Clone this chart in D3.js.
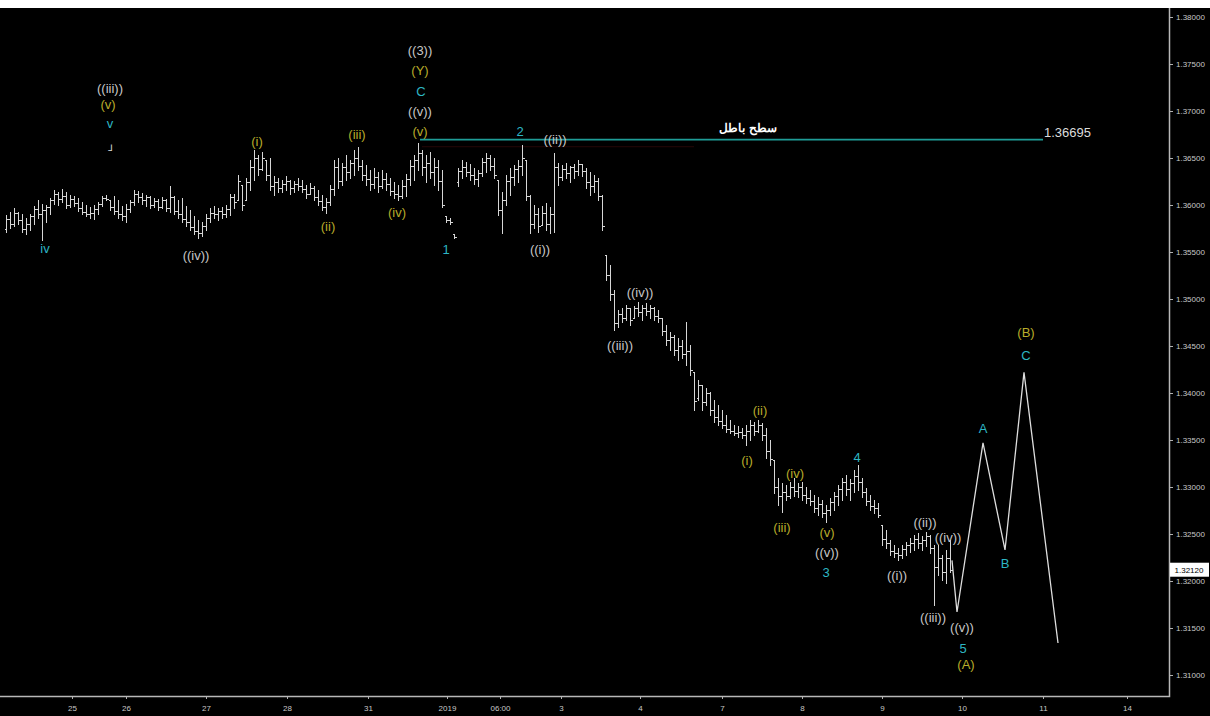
<!DOCTYPE html>
<html>
<head>
<meta charset="utf-8">
<script src="https://cdn.jsdelivr.net/npm/d3@7"></script>
<style>
body { margin: 0; background: #fff; }
svg { display: block; }
text { font-family: "Liberation Sans", Arial, sans-serif; }
</style>
</head>
<body>
<div id="chart"></div>
<script>
// hourly bars
var highs = [
  1.3589,1.3593,1.3597,1.3593,1.3590,1.3586,1.3590,1.3599,1.3605,1.3601,
  1.3600,1.3607,1.3616,1.3614,1.3617,1.3614,1.3611,1.3610,1.3607,1.3603,
  1.3600,1.3598,1.3600,1.3603,1.3610,1.3611,1.3605,1.3610,1.3605,1.3599,
  1.3601,1.3605,1.3616,1.3615,1.3613,1.3611,1.3610,1.3607,1.3606,1.3609,
  1.3606,1.3620,1.3610,1.3605,1.3607,1.3599,1.3595,1.3588,1.3584,1.3582,
  1.3590,1.3597,1.3599,1.3597,1.3598,1.3600,1.3612,1.3612,1.3632,1.3621,
  1.3629,1.3648,1.3659,1.3653,1.3656,1.3648,1.3650,1.3631,1.3629,1.3627,
  1.3631,1.3627,1.3626,1.3629,1.3627,1.3621,1.3623,1.3620,1.3616,1.3611,
  1.3607,1.3621,1.3648,1.3650,1.3645,1.3653,1.3648,1.3659,1.3662,1.3648,
  1.3643,1.3637,1.3639,1.3635,1.3637,1.3634,1.3629,1.3624,1.3621,1.3627,
  1.3633,1.3648,1.3653,1.3666,1.3659,1.3653,1.3656,1.3650,1.3648,1.3637,
  1.3588,1.3586,1.3569,1.3639,1.3648,1.3646,1.3644,1.3639,1.3637,1.3650,
  1.3655,1.3653,1.3650,1.3627,1.3614,1.3632,1.3639,1.3643,1.3648,1.3664,
  1.3648,1.3611,1.3600,1.3597,1.3599,1.3602,1.3598,1.3655,1.3645,1.3643,
  1.3645,1.3642,1.3644,1.3648,1.3644,1.3639,1.3635,1.3632,1.3629,1.3611,
  1.3547,1.3536,1.3510,1.3488,1.3490,1.3494,1.3490,1.3493,1.3497,1.3494,
  1.3496,1.3494,1.3491,1.3488,1.3480,1.3472,1.3465,1.3462,1.3458,1.3456,
  1.3476,1.3451,1.3422,1.3414,1.3408,1.3405,1.3401,1.3393,1.3387,1.3382,
  1.3377,1.3371,1.3366,1.3365,1.3363,1.3366,1.3371,1.3369,1.3371,1.3368,
  1.3363,1.3350,1.3329,1.3310,1.3304,1.3302,1.3305,1.3310,1.3304,1.3305,
  1.3300,1.3297,1.3291,1.3289,1.3286,1.3281,1.3288,1.3295,1.3302,1.3310,
  1.3313,1.3308,1.3318,1.3323,1.3310,1.3299,1.3291,1.3286,1.3283,1.3260,
  1.3254,1.3244,1.3238,1.3235,1.3238,1.3242,1.3246,1.3249,1.3251,1.3248,
  1.3252,1.3249,1.3238,1.3238,1.3228,1.3233,1.3244
];
var lows = [
  1.3571,1.3576,1.3578,1.3580,1.3571,1.3569,1.3573,1.3580,1.3586,1.3563,
  1.3582,1.3590,1.3601,1.3600,1.3603,1.3597,1.3598,1.3599,1.3594,1.3590,
  1.3588,1.3586,1.3585,1.3590,1.3599,1.3605,1.3595,1.3590,1.3586,1.3584,
  1.3582,1.3593,1.3600,1.3603,1.3601,1.3599,1.3597,1.3598,1.3595,1.3597,
  1.3594,1.3593,1.3590,1.3586,1.3582,1.3578,1.3573,1.3569,1.3565,1.3567,
  1.3573,1.3582,1.3586,1.3584,1.3586,1.3587,1.3589,1.3597,1.3605,1.3595,
  1.3605,1.3616,1.3627,1.3632,1.3637,1.3627,1.3616,1.3611,1.3614,1.3614,
  1.3616,1.3612,1.3614,1.3616,1.3614,1.3607,1.3612,1.3605,1.3600,1.3595,
  1.3591,1.3600,1.3611,1.3618,1.3621,1.3627,1.3629,1.3632,1.3637,1.3627,
  1.3621,1.3616,1.3618,1.3614,1.3618,1.3616,1.3611,1.3607,1.3605,1.3607,
  1.3610,1.3621,1.3627,1.3637,1.3632,1.3624,1.3629,1.3621,1.3616,1.3598,
  1.3582,1.3580,1.3565,1.3620,1.3629,1.3631,1.3627,1.3622,1.3620,1.3631,
  1.3635,1.3637,1.3629,1.3589,1.3570,1.3600,1.3611,1.3621,1.3624,1.3632,
  1.3605,1.3570,1.3576,1.3571,1.3579,1.3573,1.3570,1.3571,1.3621,1.3627,
  1.3629,1.3624,1.3629,1.3632,1.3631,1.3618,1.3611,1.3614,1.3605,1.3573,
  1.3520,1.3499,1.3467,1.3470,1.3476,1.3478,1.3472,1.3480,1.3482,1.3478,
  1.3483,1.3480,1.3478,1.3476,1.3462,1.3451,1.3446,1.3440,1.3435,1.3437,
  1.3430,1.3419,1.3382,1.3393,1.3382,1.3387,1.3377,1.3369,1.3366,1.3363,
  1.3358,1.3357,1.3355,1.3353,1.3352,1.3345,1.3350,1.3355,1.3358,1.3350,
  1.3331,1.3323,1.3294,1.3281,1.3273,1.3286,1.3288,1.3290,1.3289,1.3286,
  1.3283,1.3281,1.3273,1.3270,1.3268,1.3263,1.3270,1.3276,1.3281,1.3286,
  1.3291,1.3286,1.3295,1.3297,1.3289,1.3281,1.3276,1.3272,1.3268,1.3238,
  1.3235,1.3228,1.3226,1.3222,1.3225,1.3228,1.3231,1.3233,1.3235,1.3233,
  1.3237,1.3230,1.3174,1.3206,1.3201,1.3198,1.3210
];
var opens = [
  1.3575,1.3585,1.3580,1.3592,1.3584,1.3575,1.3580,1.3588,1.3596,1.3590,
  1.3595,1.3598,1.3605,1.3612,1.3606,1.3610,1.3600,1.3606,1.3602,1.3597,
  1.3593,1.3590,1.3592,1.3596,1.3601,1.3607,1.3605,1.3598,1.3594,1.3590,
  1.3588,1.3596,1.3603,1.3612,1.3608,1.3605,1.3608,1.3600,1.3604,1.3598,
  1.3605,1.3597,1.3608,1.3594,1.3590,1.3585,1.3582,1.3577,1.3572,1.3570,
  1.3578,1.3586,1.3592,1.3590,1.3594,1.3590,1.3596,1.3608,1.3605,1.3621,
  1.3605,1.3624,1.3640,1.3650,1.3638,1.3648,1.3632,1.3620,1.3624,1.3618,
  1.3622,1.3626,1.3618,1.3622,1.3620,1.3617,1.3612,1.3618,1.3609,1.3604,
  1.3598,1.3603,1.3617,1.3640,1.3625,1.3640,1.3635,1.3645,1.3650,1.3642,
  1.3632,1.3628,1.3622,1.3630,1.3620,1.3628,1.3622,1.3615,1.3612,1.3610,
  1.3620,1.3628,1.3642,1.3648,1.3655,1.3640,1.3645,1.3635,1.3640,1.3625,
  1.3588,1.3584,1.3569,1.3624,1.3636,1.3640,1.3635,1.3632,1.3628,1.3634,
  1.3646,1.3650,1.3642,1.3627,1.3595,1.3605,1.3625,1.3630,1.3638,1.3642,
  1.3648,1.3610,1.3580,1.3590,1.3579,1.3592,1.3580,1.3590,1.3640,1.3630,
  1.3638,1.3634,1.3640,1.3636,1.3644,1.3636,1.3624,1.3620,1.3626,1.3610,
  1.3547,1.3525,1.3505,1.3475,1.3484,1.3480,1.3490,1.3480,1.3490,1.3486,
  1.3490,1.3487,1.3490,1.3482,1.3480,1.3466,1.3456,1.3460,1.3446,1.3450,
  1.3442,1.3445,1.3422,1.3395,1.3408,1.3390,1.3400,1.3382,1.3375,1.3370,
  1.3366,1.3362,1.3360,1.3357,1.3358,1.3355,1.3360,1.3366,1.3360,1.3366,
  1.3355,1.3338,1.3329,1.3300,1.3290,1.3295,1.3290,1.3300,1.3296,1.3300,
  1.3292,1.3288,1.3285,1.3278,1.3282,1.3272,1.3276,1.3284,1.3290,1.3298,
  1.3305,1.3298,1.3304,1.3312,1.3305,1.3295,1.3285,1.3280,1.3278,1.3260,
  1.3245,1.3240,1.3232,1.3230,1.3228,1.3234,1.3238,1.3240,1.3245,1.3240,
  1.3244,1.3248,1.3235,1.3215,1.3225,1.3210,1.3225
];
var closes = [
  1.3585,1.3580,1.3592,1.3584,1.3575,1.3580,1.3588,1.3596,1.3590,1.3595,
  1.3598,1.3605,1.3612,1.3606,1.3610,1.3600,1.3606,1.3602,1.3597,1.3593,
  1.3590,1.3592,1.3596,1.3601,1.3607,1.3606,1.3598,1.3594,1.3590,1.3588,
  1.3596,1.3603,1.3612,1.3608,1.3605,1.3608,1.3600,1.3604,1.3598,1.3605,
  1.3597,1.3608,1.3594,1.3590,1.3585,1.3582,1.3577,1.3572,1.3570,1.3578,
  1.3586,1.3592,1.3590,1.3594,1.3590,1.3596,1.3608,1.3603,1.3625,1.3600,
  1.3624,1.3640,1.3650,1.3638,1.3650,1.3632,1.3620,1.3624,1.3618,1.3622,
  1.3626,1.3618,1.3622,1.3620,1.3617,1.3612,1.3618,1.3609,1.3604,1.3598,
  1.3603,1.3617,1.3640,1.3625,1.3640,1.3635,1.3645,1.3650,1.3642,1.3632,
  1.3628,1.3622,1.3630,1.3620,1.3628,1.3622,1.3615,1.3612,1.3610,1.3620,
  1.3628,1.3642,1.3648,1.3655,1.3640,1.3645,1.3635,1.3640,1.3625,1.3600,
  1.3584,1.3582,1.3566,1.3636,1.3640,1.3635,1.3632,1.3628,1.3634,1.3646,
  1.3650,1.3642,1.3632,1.3595,1.3605,1.3625,1.3630,1.3638,1.3642,1.3650,
  1.3610,1.3580,1.3590,1.3578,1.3592,1.3580,1.3590,1.3640,1.3630,1.3638,
  1.3634,1.3640,1.3636,1.3644,1.3636,1.3624,1.3620,1.3626,1.3610,1.3578,
  1.3525,1.3505,1.3475,1.3484,1.3480,1.3490,1.3478,1.3490,1.3486,1.3490,
  1.3487,1.3490,1.3482,1.3480,1.3466,1.3456,1.3460,1.3446,1.3450,1.3442,
  1.3445,1.3424,1.3392,1.3408,1.3390,1.3400,1.3382,1.3375,1.3370,1.3366,
  1.3362,1.3360,1.3357,1.3358,1.3355,1.3360,1.3366,1.3360,1.3366,1.3355,
  1.3338,1.3330,1.3300,1.3290,1.3295,1.3290,1.3300,1.3296,1.3300,1.3292,
  1.3288,1.3285,1.3278,1.3282,1.3272,1.3276,1.3284,1.3290,1.3298,1.3305,
  1.3298,1.3304,1.3312,1.3305,1.3295,1.3285,1.3280,1.3278,1.3270,1.3245,
  1.3240,1.3232,1.3230,1.3228,1.3234,1.3238,1.3240,1.3245,1.3240,1.3244,
  1.3248,1.3235,1.3215,1.3225,1.3210,1.3225,1.3212
];

// projected path (bar index, price)
var projIdx = [236.5, 237.75, 244.25, 249.75, 254.5, 263];
var projPrice = [1.3222, 1.3167, 1.3347, 1.3233, 1.3422, 1.3134];

// invalidation level
var levelPrice = 1.36695;
var levelStart = 103.5;
var levelEnd = 259.25;
var levelName = "سطح باطل";
var lastPrice = 1.32120;

// x axis ticks (bar index) and labels
var xTickIdx = [16.5, 30, 50, 70.25, 90.5, 110.25, 123.5, 138.75, 158.5, 179, 199, 219, 239, 259.25, 280.25];
var xTickLabels = ["25", "26", "27", "28", "31", "2019", "06:00", "3", "4", "7", "8", "9", "10", "11", "14"];
var yTicks = [1.31, 1.315, 1.32, 1.325, 1.33, 1.335, 1.34, 1.345, 1.35, 1.355, 1.36, 1.365, 1.37, 1.375, 1.38];

// wave labels: text, bar index, price, degree (0 gray, 1 yellow, 2 cyan, 3 mark)
var waveText = ["((iii))", "(v)", "v", "iv", "((iv))", "(i)", "(ii)", "(iii)", "(iv)", "(v)",
  "((v))", "C", "(Y)", "((3))", "1", "2", "((ii))", "((i))", "((iv))", "((iii))",
  "(ii)", "(i)", "(iv)", "(iii)", "4", "(v)", "((v))", "3", "((i))", "((ii))",
  "((iv))", "((iii))", "((v))", "5", "(A)", "A", "B", "C", "(B)", "⅃"];
var waveIdx = [26, 25.5, 26, 9.75, 47.5, 62.75, 80.5, 87.75, 97.75, 103.5,
  103.5, 103.75, 103.5, 103.5, 110, 128.5, 137.25, 133.5, 158.5, 153.5,
  188.5, 185.25, 197.25, 194, 212.75, 205.25, 205.25, 205, 222.75, 229.75,
  235.5, 231.75, 239, 239.25, 240, 244.25, 249.75, 255, 255, 26];
var wavePrice = [1.37245, 1.37074, 1.36872, 1.35543, 1.35468, 1.36681, 1.35777, 1.36755, 1.35926, 1.36787,
  1.37000, 1.37213, 1.37436, 1.37649, 1.35532, 1.36787, 1.36702, 1.35532, 1.35074, 1.34511,
  1.33819, 1.33287, 1.33149, 1.32575, 1.33319, 1.32521, 1.32309, 1.32096, 1.32064, 1.32628,
  1.32458, 1.31607, 1.31511, 1.31287, 1.31117, 1.33628, 1.32192, 1.34404, 1.34649, 1.36606];
var waveDegree = [0, 1, 2, 2, 0, 1, 1, 1, 1, 1,
  0, 2, 1, 0, 2, 2, 0, 0, 0, 0,
  1, 1, 1, 1, 2, 1, 0, 2, 0, 0,
  0, 0, 0, 2, 1, 2, 2, 2, 1, 3];

var degreeColors = ["#c8c8c8", "#b9ac2a", "#2db6c4", "#e0e0e0"];

var svgWidth = 1210;
var svgHeight = 716;
var plotTop = 8;
var axisX = 1169;
var axisY = 696;

var svg = d3.select("#chart")
    .append("svg")
    .attr("width", svgWidth)
    .attr("height", svgHeight);

svg.append("rect")
    .attr("x", 0)
    .attr("y", plotTop)
    .attr("width", svgWidth)
    .attr("height", svgHeight - plotTop)
    .attr("fill", "#000");

var x = d3.scaleLinear().domain([0, 290]).range([6, 1166]);
var y = d3.scaleLinear().domain([1.31, 1.38]).range([675, 17]);

var bars = d3.range(highs.length).map(function (i) {
    return { i: i, o: opens[i], h: highs[i], l: lows[i], c: closes[i] };
});

// faint red line under the level
svg.append("line")
    .attr("x1", x(104)).attr("x2", x(172))
    .attr("y1", y(1.3662)).attr("y2", y(1.3662))
    .attr("stroke", "#260707")
    .attr("stroke-width", 1);

// OHLC bars
var barGroup = svg.append("g")
    .attr("stroke", "#d6d6d6")
    .attr("stroke-width", 1)
    .attr("shape-rendering", "crispEdges");

barGroup.selectAll("path")
    .data(bars)
    .enter()
    .append("path")
    .attr("fill", "none")
    .attr("d", function (d) {
        var cx = Math.round(x(d.i)) + 0.5;
        var yo = Math.round(y(d.o)) + 0.5;
        var yc = Math.round(y(d.c)) + 0.5;
        return "M" + cx + "," + y(d.h) + "V" + (y(d.l) + 1) +
            "M" + (cx - 2) + "," + yo + "H" + cx +
            "M" + cx + "," + yc + "H" + (cx + 2);
    });

// invalidation level
svg.append("line")
    .attr("x1", x(levelStart)).attr("x2", x(levelEnd))
    .attr("y1", y(levelPrice)).attr("y2", y(levelPrice))
    .attr("stroke", "#1f9d97")
    .attr("stroke-width", 1.6);

svg.append("text")
    .attr("x", 748)
    .attr("y", y(levelPrice) - 8)
    .attr("text-anchor", "middle")
    .attr("fill", "#fff")
    .attr("font-family", "DejaVu Sans")
    .attr("font-weight", "bold")
    .attr("font-size", 12)
    .text(levelName);

svg.append("text")
    .attr("x", x(levelEnd) + 1)
    .attr("y", y(levelPrice) - 3)
    .attr("fill", "#dcdcdc")
    .attr("font-size", 13)
    .text(d3.format(".5f")(levelPrice));

// projection
var projLine = d3.line()
    .x(function (d) { return x(d[0]); })
    .y(function (d) { return y(d[1]); });

svg.append("path")
    .datum(projIdx.map(function (d, i) { return [d, projPrice[i]]; }))
    .attr("d", projLine)
    .attr("fill", "none")
    .attr("stroke", "#dedede")
    .attr("stroke-width", 1.3);

// wave labels
svg.append("g").selectAll("text")
    .data(waveText)
    .enter()
    .append("text")
    .attr("x", function (d, i) { return x(waveIdx[i]); })
    .attr("y", function (d, i) { return y(wavePrice[i]); })
    .attr("dy", "0.35em")
    .attr("text-anchor", "middle")
    .attr("font-size", function (d, i) { return waveDegree[i] === 3 ? 9 : 13; })
    .attr("fill", function (d, i) { return degreeColors[waveDegree[i]]; })
    .text(function (d) { return d; });

// axes
var rightAxis = d3.axisRight(y)
    .tickValues(yTicks)
    .tickFormat(d3.format(".5f"))
    .tickSize(4)
    .tickPadding(3);

var yAxis = svg.append("g")
    .attr("transform", `translate(${axisX}, 0)`)
    .call(rightAxis);

var bottomAxis = d3.axisBottom(x)
    .tickValues(xTickIdx)
    .tickFormat(function (d, i) { return xTickLabels[i]; })
    .tickSize(3)
    .tickPadding(6);

var xAxis = svg.append("g")
    .attr("transform", `translate(0, ${axisY})`)
    .call(bottomAxis);

svg.selectAll(".domain").remove();
svg.selectAll(".tick line").attr("stroke", "#b0b0b0");
svg.selectAll(".tick text")
    .attr("fill", "#c8c8c8")
    .attr("font-size", 8)
    .attr("font-family", "Liberation Sans, Arial, sans-serif");

svg.append("path")
    .attr("d", `M0,${axisY + 0.5}H${axisX + 0.5}V${plotTop}`)
    .attr("fill", "none")
    .attr("stroke", "#b8b8b8")
    .attr("stroke-width", 1.5);

// last price box
svg.append("rect")
    .attr("x", axisX + 1)
    .attr("y", y(lastPrice) - 7)
    .attr("width", 39)
    .attr("height", 14)
    .attr("fill", "#fff");

svg.append("text")
    .attr("x", axisX + 20)
    .attr("y", y(lastPrice))
    .attr("dy", "0.35em")
    .attr("text-anchor", "middle")
    .attr("fill", "#000")
    .attr("font-size", 8)
    .text(d3.format(".5f")(lastPrice));
</script>
</body>
</html>
